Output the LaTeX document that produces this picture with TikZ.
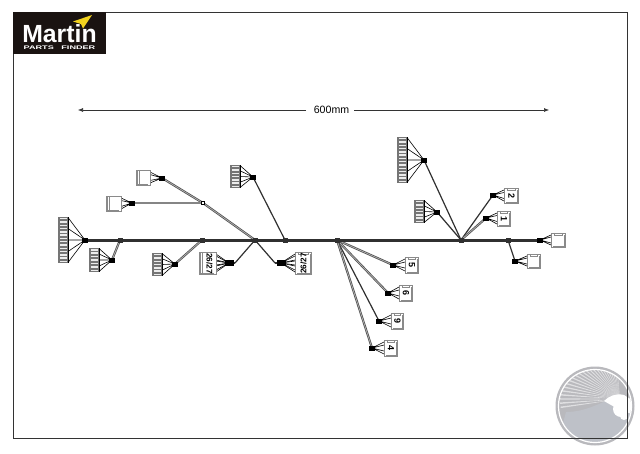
\documentclass[tikz,border=0pt]{standalone}
\usepackage{fontspec}
\setmainfont{Liberation Sans}
\usetikzlibrary{arrows.meta,calc}
\definecolor{wire}{HTML}{303030}
\definecolor{wiregrey}{HTML}{858585}
\definecolor{edgegrey}{HTML}{8A8A8A}
\definecolor{emblemtop}{HTML}{B9B9BD}
\definecolor{emblemlow}{HTML}{BEC1C8}
\definecolor{logoblack}{HTML}{1A1311}
\definecolor{logoyellow}{HTML}{F2D21E}
\tikzset{
  bus/.style={line width=3pt,draw=wire},
  wirea/.style={line width=1.2pt,draw=wire},
  wireg/.style={line width=2.4pt,draw=wiregrey},
  wired/.style={line width=2.2pt,draw=wire!85,postaction={draw=white!70!black,line width=.7pt}},
  fan/.style={line width=.6pt,draw=black},
  hubn/.style={fill=black,inner sep=0pt,minimum width=6pt,minimum height=5pt,draw=none},
  hubw/.style={fill=black,inner sep=0pt,minimum width=9pt,minimum height=6pt,draw=none},
  junc/.style={fill=wire,inner sep=0pt,minimum size=5pt,draw=none},
  boxc/.style={draw=edgegrey,line width=.9pt,fill=white,inner sep=0pt},
  lab/.style={font=\bfseries\fontsize{9}{9}\selectfont,inner sep=0pt},
  labw/.style={font=\bfseries\fontsize{8.2}{8.2}\selectfont,inner sep=0pt},
}
% strip connector: name, x, y top, y bottom, hub, teeth
\newcommand{\stripc}[6]{%
  \fill[edgegrey!85!black] (#2,#3) rectangle ++(10,#4-#3);
  \foreach \k in {1,...,#6}{
    \fill[white!85!gray] ({#2+2},{#3+(\k-.7)*(#4-#3)/#6}) rectangle ++(6.5,{.45*(#4-#3)/#6});
  }
  \draw[black,line width=.9pt] ({#2+10},#3) -- ({#2+10},#4);
  \coordinate (#1a) at ({#2+10},#3+.5);
  \coordinate (#1b) at ({#2+10},{#3+(#4-#3)*.25});
  \coordinate (#1c) at ({#2+10},{#3+(#4-#3)*.5});
  \coordinate (#1d) at ({#2+10},{#3+(#4-#3)*.75});
  \coordinate (#1e) at ({#2+10},#4-.5);
  \draw[fan] (#5) -- (#1a) (#5) -- (#1b) (#5) -- (#1c) (#5) -- (#1d) (#5) -- (#1e);
}
% box connector, fan on its left side: name, x1, y1, x2, y2, hub
\newcommand{\boxcn}[6]{%
  \draw[fan] (#6) -- (#2,#3+2) (#6) -- (#2,{(#3+#5)/2-3}) (#6) -- (#2,{(#3+#5)/2+3}) (#6) -- (#2,#5-2);
  \node[boxc,minimum width={#4-#2},minimum height={#5-#3},anchor=north west] (#1) at (#2,#3) {};
  \draw[edgegrey,line width=1.6pt] (#2+2,#5) -- (#4,#5) -- (#4,#3+2);
  \draw[edgegrey,line width=.6pt] (#2+3,#3-.2) -- (#2+3,#3+2) -- (#4-3,#3+2) -- (#4-3,#3-.2);
}
% box connector, fan on its right side
\newcommand{\boxcr}[6]{%
  \draw[fan] (#6) -- (#4,#3+2) (#6) -- (#4,{(#3+#5)/2-3}) (#6) -- (#4,{(#3+#5)/2+3}) (#6) -- (#4,#5-2);
  \node[boxc,minimum width={#4-#2},minimum height={#5-#3},anchor=north west] (#1) at (#2,#3) {};
  \draw[edgegrey,line width=1.6pt] (#4-2,#5) -- (#2,#5) -- (#2,#3);
  \draw[edgegrey,line width=.6pt] (#2+2.5,#3) -- (#2+2.5,#5);
}
\begin{document}
\begin{tikzpicture}[x=1pt,y=-1pt]
\useasboundingbox (0,0) rectangle (640,453);
% emblem
\fill[emblemtop] (595,406) circle (39.5);
\begin{scope}
\clip (595,406) circle (36);
\foreach \a in {172,176,...,264}{
  \fill[white,opacity=.55] (620,399) -- ++(\a-.7:60) -- ++(\a+90:1.5) -- cycle;
}
\fill[emblemlow] (566,412) .. controls (583,412) and (597,405) .. (612,398) -- (640,402) -- (640,450) -- (556,450) -- cycle;
\fill[white] (604,401) .. controls (609,396) and (616,393) .. (624,395) -- (632,400) -- (632,414) -- (618,409) -- cycle;
\fill[white] (621,409) circle (8);
\fill[white] (624,416) circle (4);
\end{scope}
\draw[white,line width=1.2pt] (595,406) circle (36.5);
% frame
\draw[line width=.6pt,draw=black!80] (13,12) rectangle (627,438);
% logo
\fill[logoblack] (13,12) rectangle (105.5,53.5);
\node[inner sep=0pt,text=white,text depth=0pt,font=\bfseries\fontsize{24.8}{24.8}\selectfont,anchor=base] (logo) at (59.5,42) {Martin};
\fill[logoyellow] (73,21.5) -- (92,15) -- (83,28.5) -- (81,24) -- cycle;
\node[inner sep=0pt,text=white,text height=3.6pt,text depth=0pt,xscale=1.75,font=\bfseries\fontsize{5.2}{5.2}\selectfont,anchor=base] (pf) at (59.5,49.3) {PARTS\ \ \ FINDER};
% dimension
\node[inner sep=0pt,font=\fontsize{10.6}{10.6}\selectfont] (dim) at (331.5,110) {600mm};
\coordinate (dl) at (78,110);
\coordinate (dr) at (549,110);
\draw[-{Latex[length=5pt,width=4pt]},line width=.55pt,draw=black!80] (306,110) -- (dl);
\draw[-{Latex[length=5pt,width=4pt]},line width=.55pt,draw=black!80] (354,110) -- (dr);
% hubs and junctions
\foreach \n/\x/\y in {h1/85/240,h2/112/260,h3/175/264,h4/162/178,h5/132/203,h6/253/177,h7/229/263,h8/281/263,
  h9/393/265,h10/388/293,h11/379/321,h12/372/348,h13/424/160,h14/437/212,h15/493/195,h16/486/218,h17/540/240,h18/515/261}
  {\coordinate (\n) at (\x,\y);}
\foreach \n/\x/\y in {j1/120/240,j2/202/240,j3/255/240,j4/285/240,j5/337/240,j6/461/240,j7/508/240}
  {\coordinate (\n) at (\x,\y);}
\coordinate (j8) at (203,203);
\coordinate (s1) at (235,263);
\coordinate (s2) at (275,263);
% wires
\draw[wired] (h2) -- (j1);
\draw[wired] (h3) -- (j2);
\draw[wired] (h4) -- (j8);
\draw[wired] (j8) -- (j3);
\draw[wireg] (h5) -- (j8);
\draw[wirea] (h6) -- (j4);
\draw[wirea] (j3) -- (s1) (j3) -- (s2);
\draw[wirea] (s1) -- (h7) (s2) -- (h8);
\draw[wired] (j5) -- (h9);
\draw[wired] (j5) -- (h10);
\draw[wirea] (j5) -- (h11);
\draw[wired] (j5) -- (h12);
\draw[wirea] (h13) -- (j6);
\draw[wirea] (h14) -- (j6);
\draw[wirea] (h15) -- (j6);
\draw[wired] (h16) -- (j6);
\draw[wirea] (j7) -- (h18);
\draw[bus] (h1) -- (j5) -- (j6) -- (j7) -- (h17);
% connectors
\stripc{sa}{58}{217}{263}{h1}{14}
\stripc{sb}{89}{248}{272}{h2}{7}
\stripc{sc}{152}{253}{276}{h3}{7}
\stripc{sd}{230}{165}{188}{h6}{7}
\stripc{se}{397}{137}{183}{h13}{14}
\stripc{sf}{414}{200}{223}{h14}{7}
\boxcr{b1}{137}{170}{150}{185}{h4}
\boxcr{b2}{107}{196}{121}{211}{h5}
\draw[fan] (h7) -- (216,256) (h7) -- (216,261) (h7) -- (216,265) (h7) -- (216,270);
\boxcr{b3}{200}{252}{216}{274}{h7}
\draw[fan] (h8) -- (295,256) (h8) -- (295,261) (h8) -- (295,265) (h8) -- (295,270);
\boxcn{b4}{295}{252}{311}{274}{h8}
\boxcn{b5}{405}{257}{418}{273}{h9}
\boxcn{b6}{399}{285}{412}{301}{h10}
\boxcn{b7}{391}{313}{403}{329}{h11}
\boxcn{b8}{384}{340}{397}{356}{h12}
\boxcn{b9}{504}{188}{518}{203}{h15}
\boxcn{b10}{497}{211}{510}{226}{h16}
\boxcn{b11}{551}{233}{565}{247}{h17}
\boxcn{b12}{527}{254}{540}{268}{h18}
% labels
\node[labw,rotate=-90] at ($(b3)+(1,0)$) {26/27};
\node[labw,rotate=90] at (b4) {26/27};
\node[lab,rotate=-90] at (b5) {5};
\node[lab,rotate=-90] at (b6) {6};
\node[lab,rotate=-90] at (b7) {9};
\node[lab,rotate=-90] at (b8) {4};
\node[lab,rotate=-90] at (b9) {2};
\node[lab,rotate=-90] at (b10) {1};
% hub marks
\foreach \n in {h1,h2,h3,h4,h5,h6,h9,h10,h11,h12,h13,h14,h15,h16,h17,h18}
  {\node[hubn] at (\n) {};}
\foreach \n in {h7,h8}
  {\node[hubw] at (\n) {};}
\foreach \n in {j1,j2,j3,j4,j5,j6,j7}
  {\node[junc] at (\n) {};}
\node[draw=black,fill=white,inner sep=0pt,minimum size=3pt,line width=.4pt] at (j8) {};
\end{tikzpicture}
\end{document}
